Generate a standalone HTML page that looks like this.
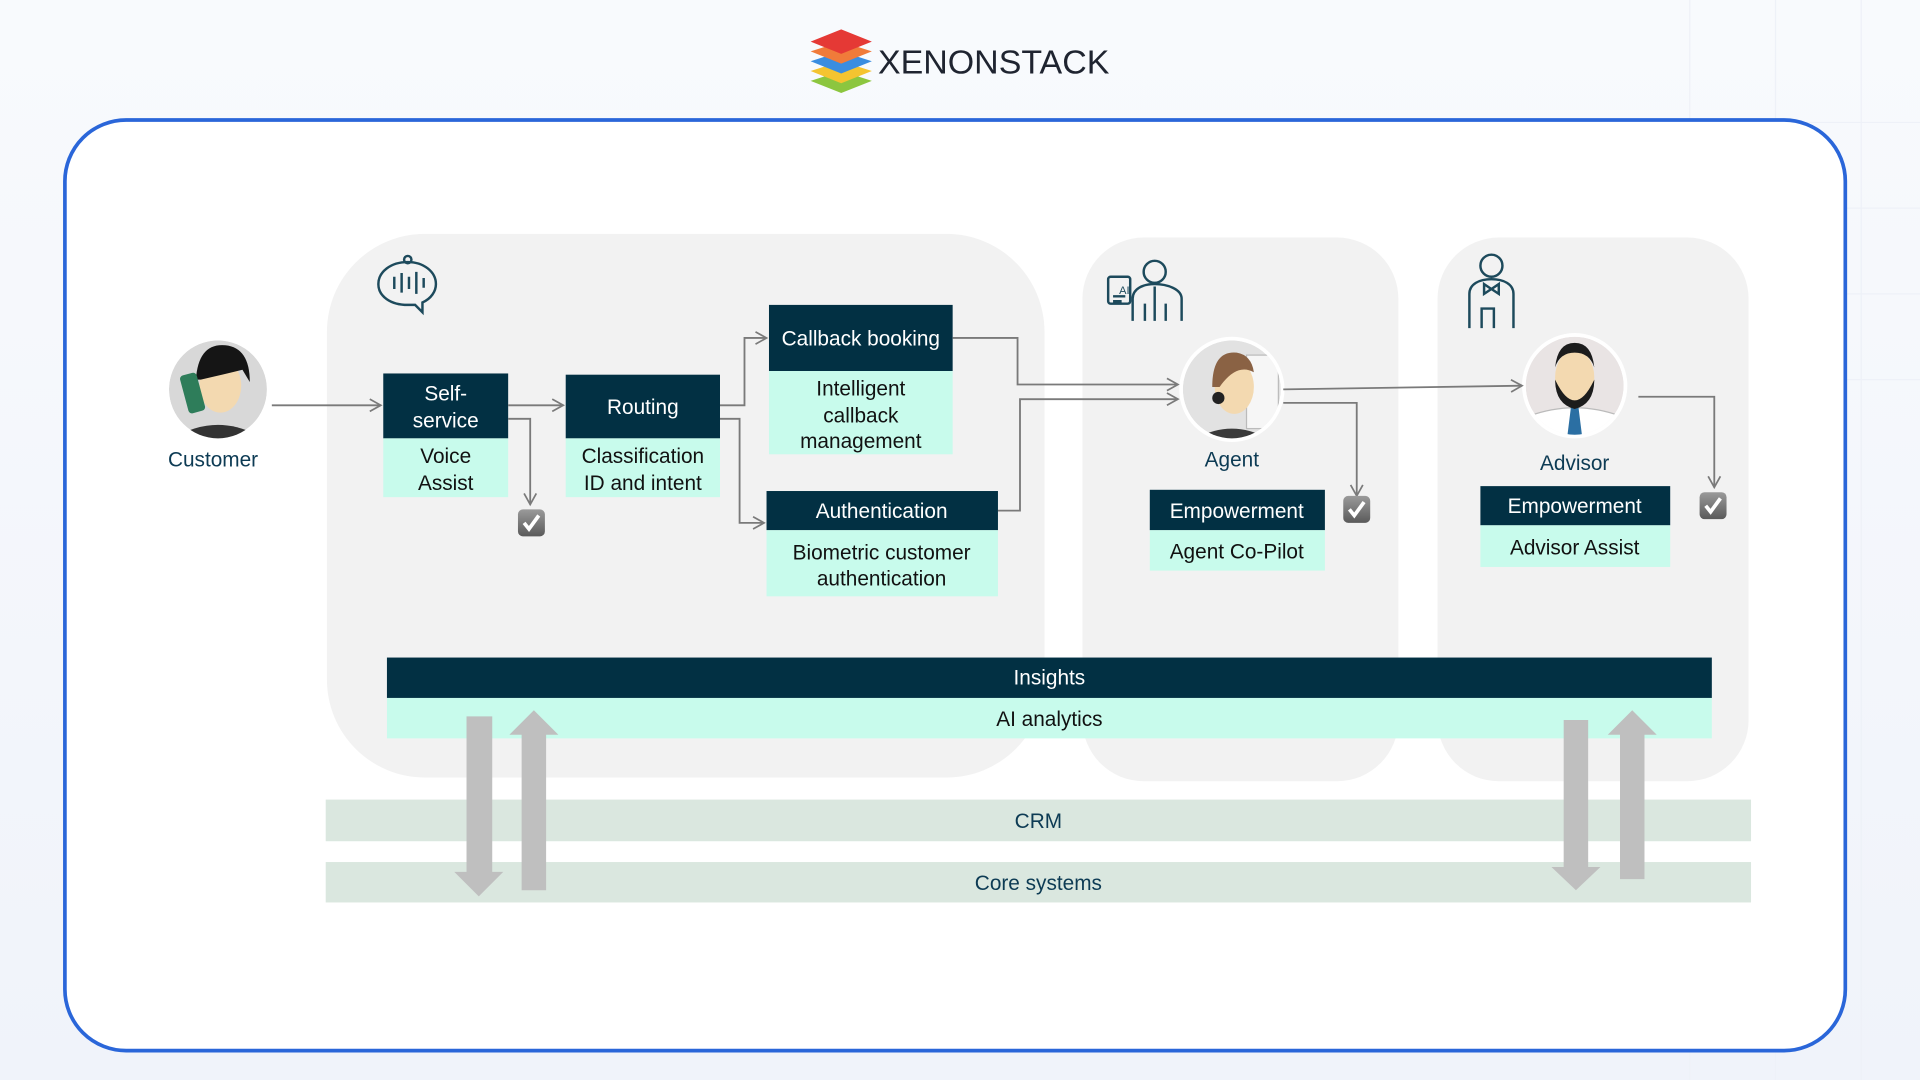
<!DOCTYPE html>
<html><head><meta charset="utf-8"><style>
html,body{margin:0;padding:0;width:1920px;height:1080px;overflow:hidden;background:#f5f8fc}
svg{display:block}
text{font-family:"Liberation Sans",Arial,sans-serif}
</style></head><body>
<svg width="1920" height="1080" viewBox="0 0 1568 882" xmlns="http://www.w3.org/2000/svg">
<defs>
<linearGradient id="bg" x1="0" y1="0" x2="0" y2="1"><stop offset="0" stop-color="#f8fafd"/><stop offset="1" stop-color="#f0f3fa"/></linearGradient>
<linearGradient id="chk" x1="0" y1="0" x2="0" y2="1"><stop offset="0" stop-color="#9a9a9a"/><stop offset="1" stop-color="#5a5a5a"/></linearGradient>
<clipPath id="c1"><circle cx="178" cy="318" r="40"/></clipPath>
<clipPath id="c2"><circle cx="1006" cy="318" r="40"/></clipPath>
<clipPath id="c3"><circle cx="1286" cy="315" r="40"/></clipPath>
<marker id="ar" markerWidth="12" markerHeight="12" refX="10" refY="6" orient="auto" markerUnits="userSpaceOnUse"><path d="M1,1 L10,6 L1,11" fill="none" stroke="#7a7a7a" stroke-width="1.4"/></marker>
<g id="check"><rect x="-11" y="-11" width="22" height="22" rx="4" fill="url(#chk)"/><path d="M-6,0 L-2,5 L6,-6" fill="none" stroke="#fff" stroke-width="3"/></g>
</defs>
<rect width="1568" height="882" fill="url(#bg)"/>
<g stroke="#eef1f8" stroke-width="1">
<path d="M1380 0V882M1450 0V882M1520 0V882M1300 100H1568M1300 170H1568M1300 240H1568M1300 310H1568"/>
</g>
<!-- logo -->
<g>
<path d="M687,58 L712,66 L687,76 L662,66Z" fill="#8cc63f"/>
<path d="M687,50 L712,58 L687,68 L662,58Z" fill="#f4c430"/>
<path d="M687,42 L712,50 L687,60 L662,50Z" fill="#3a8de0"/>
<path d="M687,34 L712,42 L687,52 L662,42Z" fill="#f07b3a"/>
<path d="M687,24 L712,34 L687,44 L662,34Z" fill="#e53935"/>
<text x="717" y="60" font-size="27" fill="#1f2430" textLength="189" lengthAdjust="spacingAndGlyphs">XENONSTACK</text>
</g>
<!-- card -->
<rect x="53" y="98" width="1454" height="760" rx="50" fill="#fff" stroke="#2a66d9" stroke-width="3"/>
<!-- panels -->
<rect x="267" y="191" width="586" height="444" rx="80" fill="#f2f2f2"/>
<rect x="884" y="194" width="258" height="444" rx="50" fill="#f2f2f2"/>
<rect x="1174" y="194" width="254" height="444" rx="50" fill="#f2f2f2"/>
<!-- icons -->
<g fill="none" stroke="#1d4a5c" stroke-width="2">
<path d="M333,214 c-14,0 -24,8 -24,18 c0,10 10,17 24,17 l6,0 l6,6 l0,-8 c7,-3 11,-9 11,-15 c0,-10 -10,-18 -23,-18z"/>
<path d="M322,226v10M328,223v16M334,226v10M340,222v18M346,227v8"/>
<circle cx="333" cy="212" r="3"/>
<circle cx="943" cy="222" r="9"/><path d="M925,262 v-18 c0,-8 8,-12 18,-12 c10,0 22,4 22,12 v18 M943,234 v28 M935,262v-14M952,262v-14"/>
<rect x="905" y="226" width="18" height="22" rx="2"/><path d="M909,242h10M909,246h7"/>
<circle cx="1218" cy="217" r="9"/><path d="M1200,268 v-28 c0,-8 8,-12 18,-12 c10,0 18,4 18,12 v28 M1212,232 l6,4 l6,-4 l0,8 l-6,-4 l-6,4z M1210,268v-16h10v16"/>
</g>
<text x="914" y="240" font-size="9" fill="#1d4a5c">AI</text>
<!-- avatars -->
<circle cx="178" cy="318" r="43" fill="#fff"/>
<g clip-path="url(#c1)">
<circle cx="178" cy="318" r="40" fill="#d8d8d8"/>
<path d="M135,362 q43,-30 86,0z" fill="#333"/>
<ellipse cx="180" cy="315" rx="17" ry="22" fill="#f3d9b0"/>
<path d="M160,310 q2,-30 24,-28 q20,2 20,30 l-6,-10 q-16,4 -34,8z" fill="#151515"/>
<rect x="150" y="305" width="14" height="32" rx="3" fill="#2e7d5a" transform="rotate(-15 157 320)"/>
</g>
<circle cx="1006" cy="318" r="43" fill="#fff"/>
<g clip-path="url(#c2)">
<circle cx="1006" cy="318" r="40" fill="#e2e2e2"/>
<rect x="1018" y="290" width="26" height="60" fill="#f6f6f6" stroke="#bbb"/>
<path d="M970,362 q36,-24 72,0z" fill="#3a3a3a"/>
<ellipse cx="1008" cy="316" rx="16" ry="22" fill="#f3d9b0"/>
<path d="M990,316 q0,-30 20,-28 q12,2 14,16 q-14,-8 -28,12z" fill="#8a6244"/>
<circle cx="995" cy="325" r="5" fill="#222"/>
</g>
<circle cx="1286" cy="315" r="43" fill="#fff"/>
<g clip-path="url(#c3)">
<circle cx="1286" cy="315" r="40" fill="#e9e4e4"/>
<path d="M1248,340 q38,-14 76,0 v20 h-76z" fill="#fff" stroke="#bbb"/>
<path d="M1283,332 l6,0 l3,24 l-6,4 l-6,-4z" fill="#2b6fa3"/>
<ellipse cx="1286" cy="308" rx="16" ry="22" fill="#f3d9b0"/>
<path d="M1270,310 q16,34 32,0 q0,20 -16,24 q-16,-4 -16,-24z M1270,300 q2,-20 16,-20 q14,0 16,20 q-4,-12 -16,-12 q-12,0 -16,12z" fill="#1c1c1c"/>
</g>
<g font-size="17" fill="#0d3b54" text-anchor="middle">
<text x="174" y="381">Customer</text>
<text x="1006" y="381">Agent</text>
<text x="1286" y="384">Advisor</text>
</g>
<!-- boxes -->
<g fill="#023043">
<rect x="313" y="305" width="102" height="53"/>
<rect x="462" y="306" width="126" height="52"/>
<rect x="628" y="249" width="150" height="54"/>
<rect x="626" y="401" width="189" height="32"/>
<rect x="939" y="400" width="143" height="33"/>
<rect x="1209" y="397" width="155" height="32"/>
<rect x="316" y="537" width="1082" height="33"/>
</g>
<g fill="#c8fbec">
<rect x="313" y="358" width="102" height="48"/>
<rect x="462" y="358" width="126" height="48"/>
<rect x="628" y="303" width="150" height="68"/>
<rect x="626" y="433" width="189" height="54"/>
<rect x="939" y="433" width="143" height="33"/>
<rect x="1209" y="429" width="155" height="34"/>
<rect x="316" y="570" width="1082" height="33"/>
</g>
<rect x="266" y="653" width="1164" height="34" fill="#dae7df"/>
<rect x="266" y="704" width="1164" height="33" fill="#dae7df"/>
<g font-size="17" text-anchor="middle" fill="#fff">
<text x="364" y="327">Self-</text><text x="364" y="349">service</text>
<text x="525" y="338">Routing</text>
<text x="703" y="282">Callback booking</text>
<text x="720" y="423">Authentication</text>
<text x="1010" y="423">Empowerment</text>
<text x="1286" y="419">Empowerment</text>
<text x="857" y="559">Insights</text>
</g>
<g font-size="17" text-anchor="middle" fill="#111">
<text x="364" y="378">Voice</text><text x="364" y="400">Assist</text>
<text x="525" y="378">Classification</text><text x="525" y="400">ID and intent</text>
<text x="703" y="323">Intelligent</text><text x="703" y="345">callback</text><text x="703" y="366">management</text>
<text x="720" y="457">Biometric customer</text><text x="720" y="478">authentication</text>
<text x="1010" y="456">Agent Co-Pilot</text>
<text x="1286" y="453">Advisor Assist</text>
<text x="857" y="593">AI analytics</text>
</g>
<g font-size="17" text-anchor="middle" fill="#0d3b54">
<text x="848" y="676">CRM</text>
<text x="848" y="727">Core systems</text>
</g>
<!-- big arrows -->
<g fill="#bfbfbf">
<path d="M381,585 h21 v127 h9 l-20,20 l-20,-20 h10z"/>
<path d="M426,727 v-127 h-10 l20,-20 l20,20 h-10 v127z"/>
<path d="M1277,588 h20 v120 h10 l-20,19 l-20,-19 h10z"/>
<path d="M1323,718 v-118 h-10 l20,-20 l20,20 h-10 v118z"/>
</g>
<!-- connectors -->
<g fill="none" stroke="#7a7a7a" stroke-width="1.5" marker-end="url(#ar)">
<path d="M222,331 H311"/>
<path d="M415,331 H460"/>
<path d="M415,342 H433 V412"/>
<path d="M588,331 H608 V276 H626"/>
<path d="M588,342 H604 V427 H624"/>
<path d="M778,276 H831 V314 H962"/>
<path d="M815,417 H833 V326 H962"/>
<path d="M1048,318 L1243,315"/>
<path d="M1048,329 H1108 V405"/>
<path d="M1338,324 H1400 V398"/>
</g>
<use href="#check" x="434" y="427"/>
<use href="#check" x="1108" y="416"/>
<use href="#check" x="1399" y="413"/>
</svg>
</body></html>
